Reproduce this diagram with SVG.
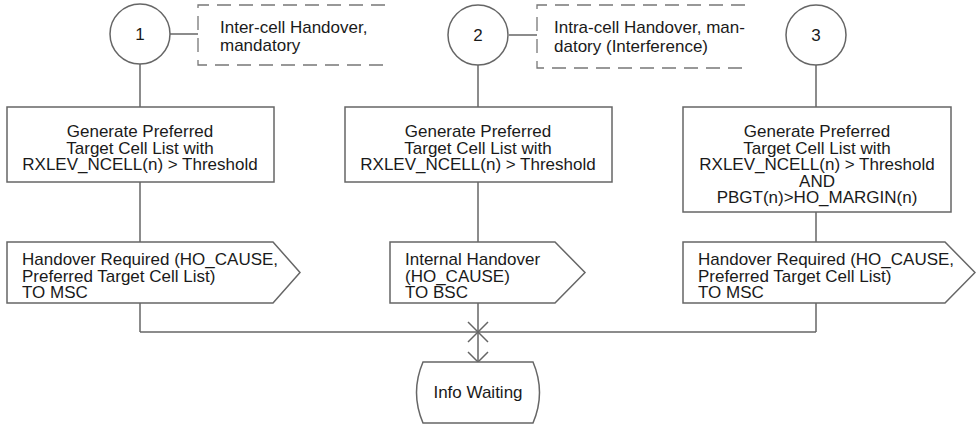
<svg xmlns="http://www.w3.org/2000/svg" width="976" height="426" viewBox="0 0 976 426">
<style>
.s{fill:#fff;stroke:#666;stroke-width:1.5}
.c{fill:none;stroke:#666;stroke-width:1.5}
.d{fill:none;stroke:#777;stroke-width:1.3;stroke-dasharray:14 8}
text{font-family:"Liberation Sans",Arial,sans-serif;font-size:17px;fill:#1a1a1a}
.m{text-anchor:middle}
</style>
<rect width="976" height="426" fill="#fff"/>
<g id="connectors">
<line class="c" x1="170" y1="34" x2="198" y2="34"/>
<line class="c" x1="509" y1="35" x2="537" y2="35"/>
<line class="c" x1="140" y1="64" x2="140" y2="107"/>
<line class="c" x1="478" y1="65" x2="478" y2="107"/>
<line class="c" x1="816" y1="65" x2="816" y2="107"/>
<line class="c" x1="140" y1="182" x2="140" y2="242"/>
<line class="c" x1="478" y1="182" x2="478" y2="242"/>
<line class="c" x1="816" y1="212" x2="816" y2="242"/>
<line class="c" x1="140" y1="303" x2="140" y2="332"/>
<line class="c" x1="816" y1="303" x2="816" y2="332"/>
<line class="c" x1="140" y1="332" x2="816" y2="332"/>
<line class="c" x1="478" y1="303" x2="478" y2="362"/>
<path class="c" d="M468,322 L488,342 M488,322 L468,342"/>
<path class="c" d="M468,352 L478,362 L488,352"/>
</g>
<g id="start1">
<circle class="s" cx="140" cy="34" r="30"/>
<text class="m" x="140" y="40">1</text>
</g>
<g id="comment1">
<path class="d" d="M385,5 L198,5 L198,65 L385,65"/>
<text x="220" y="33">Inter-cell Handover,</text>
<text x="220" y="51">mandatory</text>
</g>
<g id="start2">
<circle class="s" cx="478" cy="35" r="30"/>
<text class="m" x="478" y="41">2</text>
</g>
<g id="comment2">
<path class="d" d="M745,5 L537,5 L537,68 L745,68"/>
<text x="554" y="33">Intra-cell Handover, man-</text>
<text x="554" y="52">datory (Interference)</text>
</g>
<g id="start3">
<circle class="s" cx="816" cy="35" r="30"/>
<text class="m" x="816" y="41">3</text>
</g>
<g id="task1">
<rect class="s" x="7" y="107" width="267" height="75"/>
<text class="m" x="140" y="137">Generate Preferred</text>
<text class="m" x="140" y="153.5">Target Cell List with</text>
<text class="m" x="140" y="170">RXLEV_NCELL(n) &gt; Threshold</text>
</g>
<g id="task2">
<rect class="s" x="345" y="107" width="267" height="75"/>
<text class="m" x="478" y="137">Generate Preferred</text>
<text class="m" x="478" y="153.5">Target Cell List with</text>
<text class="m" x="478" y="170">RXLEV_NCELL(n) &gt; Threshold</text>
</g>
<g id="task3">
<rect class="s" x="683" y="107" width="268" height="105"/>
<text class="m" x="817" y="137">Generate Preferred</text>
<text class="m" x="817" y="153.5">Target Cell List with</text>
<text class="m" x="817" y="170">RXLEV_NCELL(n) &gt; Threshold</text>
<text class="m" x="817" y="186.5">AND</text>
<text class="m" x="817" y="203">PBGT(n)&gt;HO_MARGIN(n)</text>
</g>
<g id="output1">
<path class="s" d="M7,242 L273,242 L300,272.5 L273,303 L7,303 Z"/>
<text x="22" y="265">Handover Required (HO_CAUSE,</text>
<text x="22" y="281.5">Preferred Target Cell List)</text>
<text x="22" y="298">TO MSC</text>
</g>
<g id="output2">
<path class="s" d="M390,242 L555,242 L585,272.5 L555,303 L390,303 Z"/>
<text x="405" y="265">Internal Handover</text>
<text x="405" y="281.5">(HO_CAUSE)</text>
<text x="405" y="298">TO BSC</text>
</g>
<g id="output3">
<path class="s" d="M683,242 L945,242 L975,272.5 L945,303 L683,303 Z"/>
<text x="698" y="265">Handover Required (HO_CAUSE,</text>
<text x="698" y="281.5">Preferred Target Cell List)</text>
<text x="698" y="298">TO MSC</text>
</g>
<g id="state">
<path class="s" d="M423,362 L533,362 Q546,392.5 533,423 L423,423 Q410,392.5 423,362 Z"/>
<text class="m" x="478" y="398">Info Waiting</text>
</g>
</svg>
